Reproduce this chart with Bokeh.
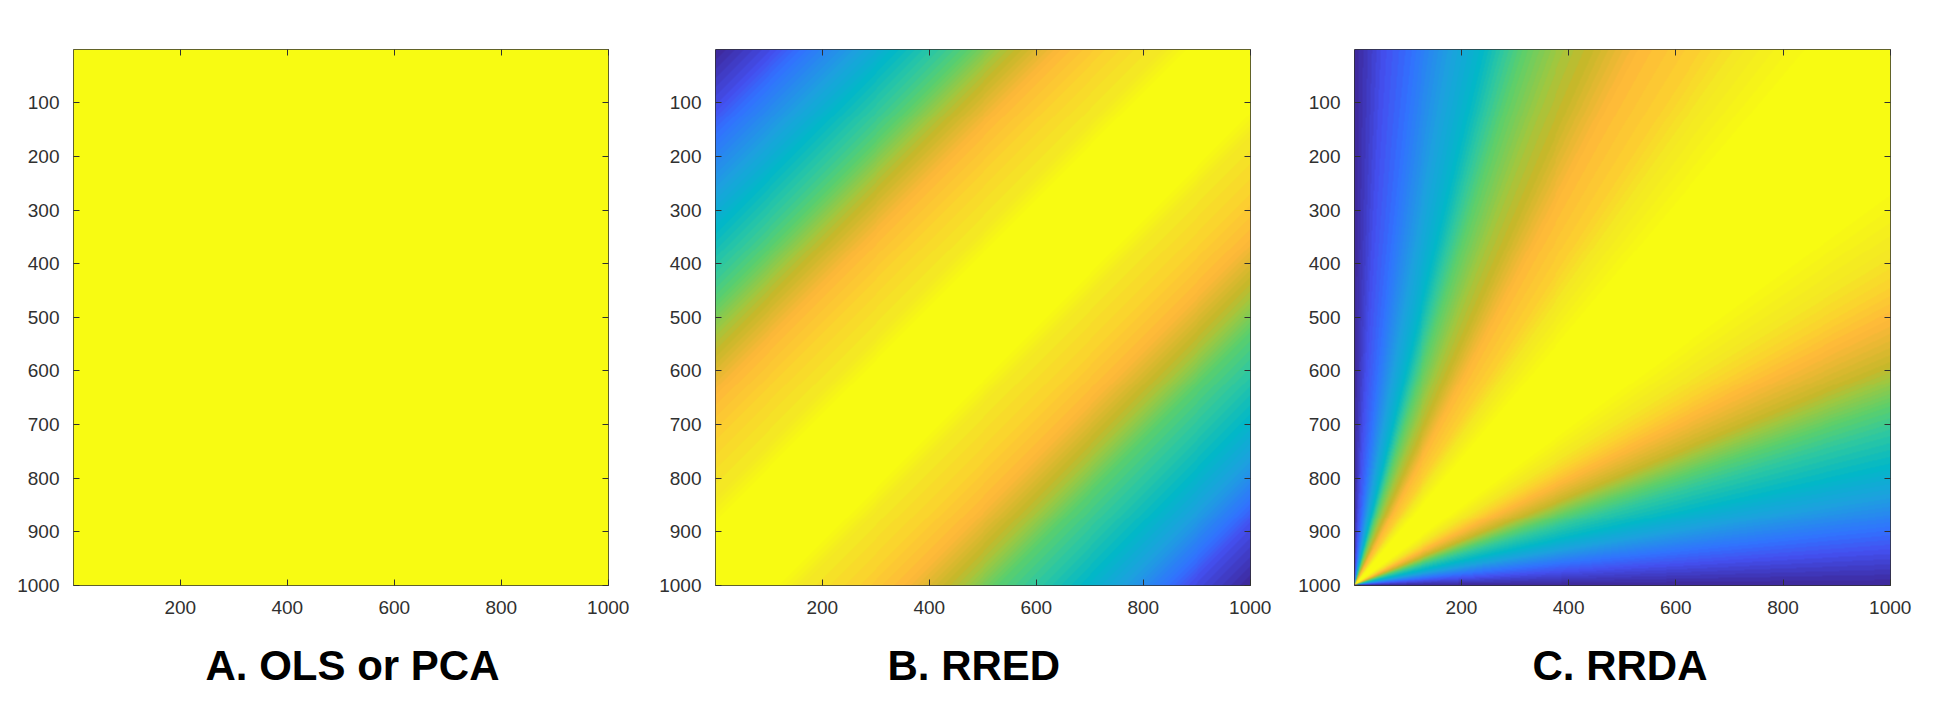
import numpy as np
from bokeh.embed import file_html
from bokeh.resources import INLINE
from bokeh.layouts import row
from bokeh.models import Range1d, LinearAxis, FixedTicker, LinearColorMapper, Title
from bokeh.plotting import figure

titles = ["A. OLS or PCA", "B. RRED", "C. RRDA"]
x_ticks = [200, 400, 600, 800, 1000]
y_ticks = [100, 200, 300, 400, 500, 600, 700, 800, 900, 1000]

# colour level read along x + y in panel B
b_sum = [2, 110, 157, 260, 337, 415, 475, 530, 572, 648, 731, 835, 890, 1000,
         1110, 1165, 1269, 1352, 1428, 1470, 1525, 1600, 1690, 1770, 1850, 1890, 2000]
b_level = [0.0, 0.1, 0.17, 0.3, 0.4, 0.48, 0.55, 0.65, 0.7, 0.8, 0.86, 0.92, 1.0, 1.0,
           1.0, 0.92, 0.86, 0.8, 0.7, 0.65, 0.55, 0.48, 0.4, 0.3, 0.17, 0.1, 0.0]

# colour level read along the angle (degrees) around the bottom-left corner in panel C
c_angle = [0, 3.5, 5.7, 9.3, 12.5, 16, 18.5, 21, 22.5, 26.5, 29, 32, 37, 45,
           49, 54, 57, 62, 66, 69, 72.5, 74.5, 76.5, 80, 84, 87, 90]
c_level = [0.0, 0.1, 0.17, 0.3, 0.4, 0.48, 0.55, 0.65, 0.7, 0.8, 0.86, 0.92, 1.0, 1.0,
           1.0, 0.92, 0.86, 0.8, 0.7, 0.65, 0.55, 0.48, 0.4, 0.3, 0.17, 0.1, 0.0]

a_level = 1.0

color_pos = [0.0, 0.1, 0.17, 0.3, 0.4, 0.48, 0.55, 0.65, 0.7, 0.8, 0.86, 0.92, 1.0]
color_hex = ["#3e2a9e", "#4450f0", "#3272ff", "#1ea0e0", "#02b8c8", "#30c8a0", "#5cd06c",
             "#a0c840", "#c8b82a", "#ffb83a", "#fcd030", "#f4e825", "#f8fb12"]


def build_palette(n=64):
    rgb = np.array([[int(h[i:i + 2], 16) for i in (1, 3, 5)] for h in color_hex], float)
    t = np.linspace(0, 1, n)
    chans = [np.interp(t, color_pos, rgb[:, k]) for k in range(3)]
    return ["#%02x%02x%02x" % (int(r), int(g), int(b)) for r, g, b in zip(*chans)]


palette = build_palette()
mapper = LinearColorMapper(palette=palette, low=0, high=1)

n = 540
grid = np.linspace(1, 1000, n)
X, Y = np.meshgrid(grid, grid)
img_a = np.full((n, n), a_level)
img_b = np.interp(X + Y, b_sum, b_level)
img_c = np.interp(np.degrees(np.arctan2(1000 - Y, X)), c_angle, c_level)

INK = "#303030"


def panel(img, title, left, right, frame_w, title_offset):
    p = figure(frame_width=frame_w, frame_height=536, x_range=Range1d(0.5, 1000.5),
               y_range=Range1d(1000.5, 0.5), output_backend="svg", toolbar_location=None,
               min_border_left=left, min_border_right=right, min_border_top=49,
               min_border_bottom=120, x_axis_type=None, y_axis_type=None,
               outline_line_color=INK, outline_line_width=1)
    p.grid.visible = False
    p.image(image=[img], x=0.5, y=0.5, dw=1000, dh=1000, color_mapper=mapper)
    for side, ticks, shown in (("below", x_ticks, True), ("above", x_ticks, False),
                               ("left", y_ticks, True), ("right", y_ticks, False)):
        ax = LinearAxis(ticker=FixedTicker(ticks=ticks))
        ax.axis_line_color = None
        ax.major_tick_in = 6
        ax.major_tick_out = 0
        ax.minor_tick_line_color = None
        ax.major_tick_line_color = INK
        ax.major_label_orientation = "horizontal"
        if shown:
            ax.major_label_text_font = "Liberation Sans"
            ax.major_label_text_font_size = "19px"
            ax.major_label_text_color = INK
            ax.major_label_standoff = 15 if side == "below" else 14
        else:
            ax.major_label_overrides = {t: "" for t in ticks}
            ax.major_label_standoff = 0
        p.add_layout(ax, side)
    p.add_layout(Title(text=title, align="left", offset=title_offset, standoff=46,
                       text_font="Liberation Sans", text_font_style="bold",
                       text_font_size="42px", text_color="black"), "below")
    return p


p1 = panel(img_a, titles[0], 73, 48, 535, 132)
p2 = panel(img_b, titles[1], 55, 45, 535, 172)
p3 = panel(img_c, titles[2], 52, 34, 536, 178)
page = row(p1, p2, p3, spacing=0)
open("out.html", "w").write(file_html(page, INLINE))
